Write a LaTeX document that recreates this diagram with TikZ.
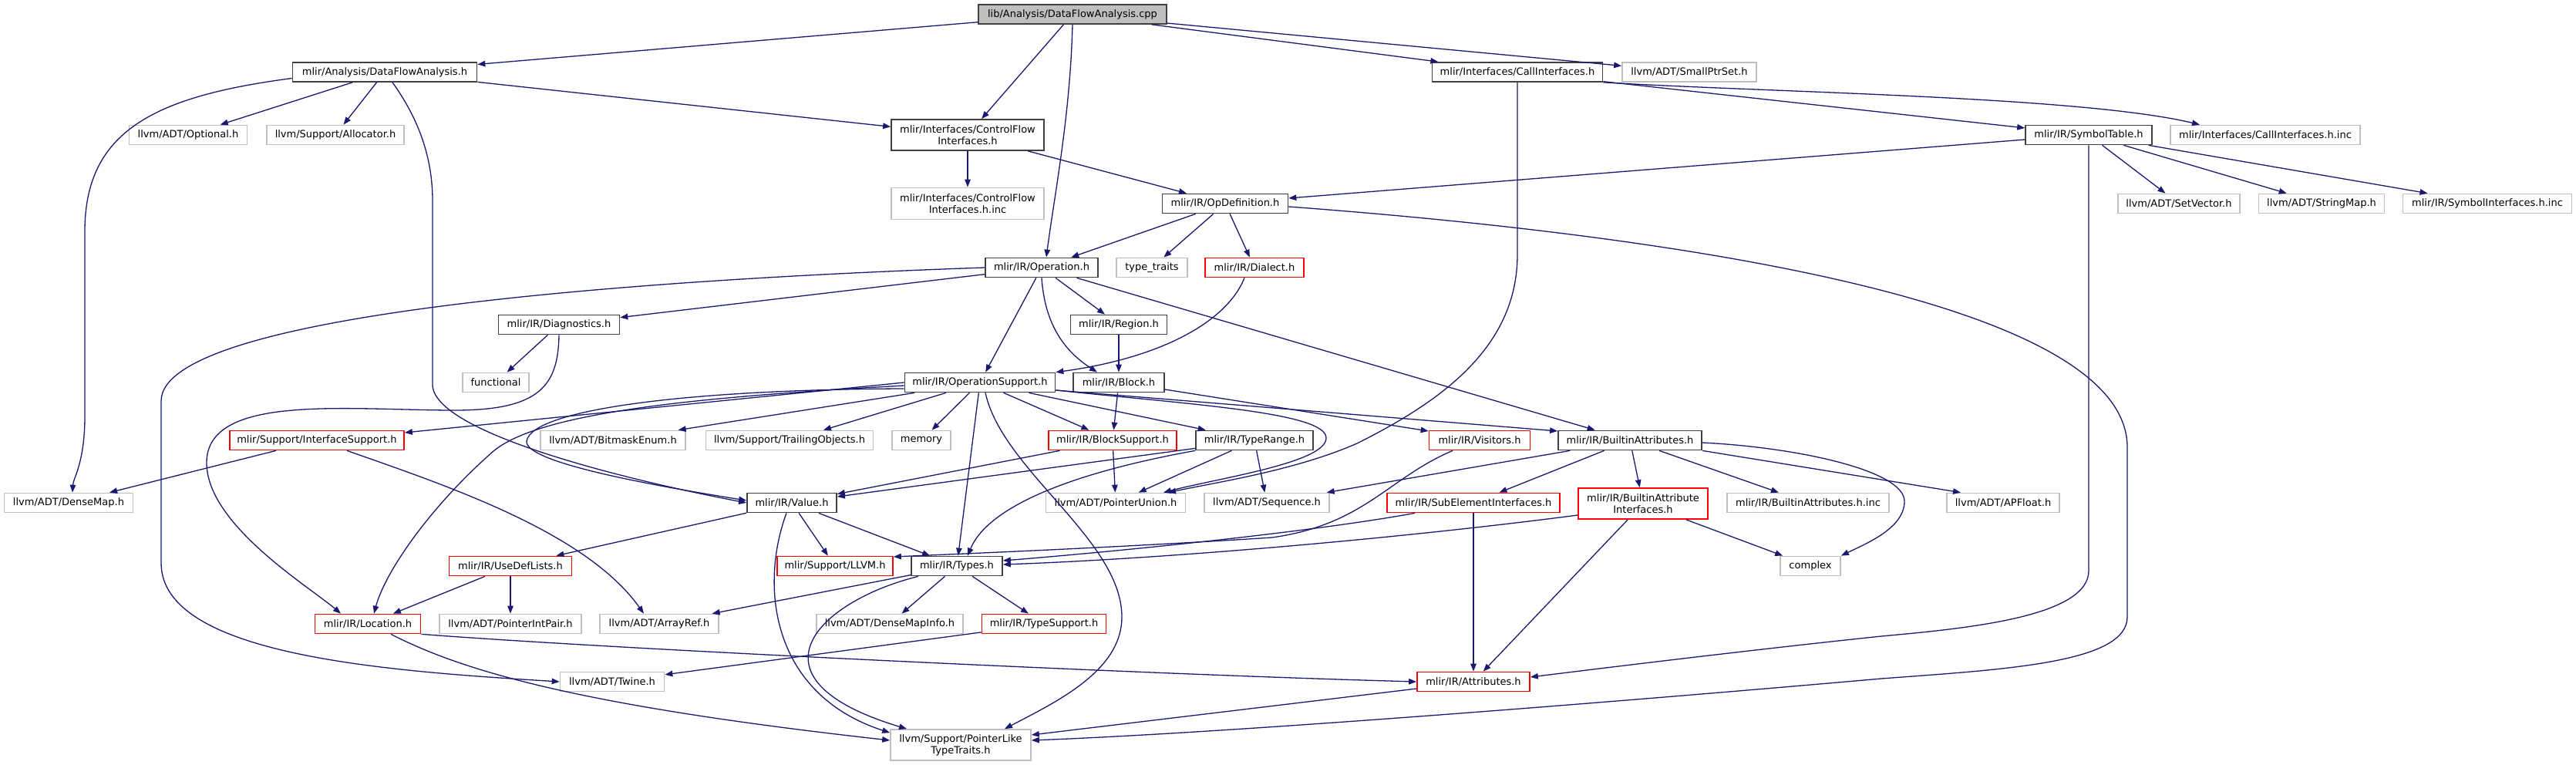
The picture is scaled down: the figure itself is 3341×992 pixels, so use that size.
\documentclass[tikz,border=0pt]{standalone}
\usepackage{fontspec}
\setmainfont{DejaVu Sans}
\usetikzlibrary{arrows.meta,calc}
\definecolor{edgecol}{HTML}{191970}
\definecolor{bordk}{HTML}{404040}
\definecolor{bordg}{HTML}{BFBFBF}
\definecolor{bordr}{HTML}{FF0000}
\definecolor{rootfill}{HTML}{BFBFBF}
\begin{document}
\begin{tikzpicture}[x=1pt,y=-1pt,
  fbox/.style={rectangle, inner sep=0pt, minimum height=25pt, font=\fontsize{13}{15}\selectfont, align=center, fill=white, line width=1.7pt},
  kbox/.style={fbox, draw=bordk},
  gbox/.style={fbox, draw=bordg},
  rbox/.style={fbox, draw=bordr},
  dep/.style={draw=edgecol, line width=1.3pt, -{Triangle[length=10pt,width=7.5pt]}}]
\useasboundingbox[fill=white] (0,0) rectangle (3341,992);
% row A/B/C
\node[kbox, fill=rootfill, minimum width=244pt] (cpp) at (1391,18.5) {lib/Analysis/DataFlowAnalysis.cpp};
\node[kbox, minimum width=239pt] (dfa) at (499,93.5) {mlir/Analysis/DataFlowAnalysis.h};
\node[kbox, minimum width=221pt] (call) at (1968,93.5) {mlir/Interfaces/CallInterfaces.h};
\node[gbox, minimum width=174pt] (sps) at (2191,93.5) {llvm/ADT/SmallPtrSet.h};
\node[gbox, minimum width=153pt] (opt) at (244,175) {llvm/ADT/Optional.h};
\node[gbox, minimum width=178pt] (alloc) at (435,175) {llvm/Support/Allocator.h};
\node[kbox, minimum width=198pt, minimum height=40pt] (cfi) at (1255,175) {mlir/Interfaces/ControlFlow\\Interfaces.h};
\node[kbox, minimum width=164pt] (symt) at (2709,175) {mlir/IR/SymbolTable.h};
\node[gbox, minimum width=246pt] (callinc) at (2938,175) {mlir/Interfaces/CallInterfaces.h.inc};
% row D
\node[gbox, minimum width=198pt, minimum height=41pt] (cfiinc) at (1255,264) {mlir/Interfaces/ControlFlow\\Interfaces.h.inc};
\node[kbox, minimum width=163pt] (opdef) at (1589,264) {mlir/IR/OpDefinition.h};
\node[gbox, minimum width=158pt] (setv) at (2826,264) {llvm/ADT/SetVector.h};
\node[gbox, minimum width=163pt] (smap) at (3011,264) {llvm/ADT/StringMap.h};
\node[gbox, minimum width=219pt] (syminc) at (3226,264) {mlir/IR/SymbolInterfaces.h.inc};
% row E
\node[kbox, minimum width=146pt] (opr) at (1351,347) {mlir/IR/Operation.h};
\node[gbox, minimum width=92pt] (tt) at (1494,347) {type\_traits};
\node[rbox, minimum width=128pt] (dial) at (1627,347) {mlir/IR/Dialect.h};
% row F
\node[kbox, minimum width=157pt] (diag) at (725,421) {mlir/IR/Diagnostics.h};
\node[kbox, minimum width=125pt] (reg) at (1451,421) {mlir/IR/Region.h};
% row G
\node[gbox, minimum width=86pt] (func) at (643,496) {functional};
\node[kbox, minimum width=195pt] (ops) at (1271,496) {mlir/IR/OperationSupport.h};
\node[kbox, minimum width=118pt] (blk) at (1451,496) {mlir/IR/Block.h};
% row H
\node[rbox, minimum width=226pt] (isup) at (411,571) {mlir/Support/InterfaceSupport.h};
\node[gbox, minimum width=188pt] (bme) at (795,571) {llvm/ADT/BitmaskEnum.h};
\node[gbox, minimum width=217pt] (trail) at (1024,571) {llvm/Support/TrailingObjects.h};
\node[gbox, minimum width=76pt] (mem) at (1195,571) {memory};
\node[rbox, minimum width=166pt] (bsup) at (1443,571) {mlir/IR/BlockSupport.h};
\node[kbox, minimum width=152pt] (trange) at (1627,571) {mlir/IR/TypeRange.h};
\node[rbox, minimum width=131pt] (vis) at (1919,571) {mlir/IR/Visitors.h};
\node[kbox, minimum width=186pt] (battr) at (2114,571) {mlir/IR/BuiltinAttributes.h};
% row I
\node[gbox, minimum width=167pt] (dmap) at (89,652) {llvm/ADT/DenseMap.h};
\node[kbox, minimum width=116pt] (val) at (1027,652) {mlir/IR/Value.h};
\node[gbox, minimum width=181pt] (punion) at (1447,652) {llvm/ADT/PointerUnion.h};
\node[gbox, minimum width=162pt] (seq) at (1643,652) {llvm/ADT/Sequence.h};
\node[rbox, minimum width=224pt] (sei) at (1911,652) {mlir/IR/SubElementInterfaces.h};
\node[rbox, minimum width=168pt, minimum height=40pt] (bai) at (2131,653) {mlir/IR/BuiltinAttribute\\Interfaces.h};
\node[gbox, minimum width=210pt] (bainc) at (2345,652) {mlir/IR/BuiltinAttributes.h.inc};
\node[gbox, minimum width=146pt] (apf) at (2598,652) {llvm/ADT/APFloat.h};
% row J
\node[rbox, minimum width=159pt] (udl) at (662,734) {mlir/IR/UseDefLists.h};
\node[rbox, minimum width=150pt] (llvmh) at (1083,734) {mlir/Support/LLVM.h};
\node[kbox, minimum width=118pt] (types) at (1241,734) {mlir/IR/Types.h};
\node[gbox, minimum width=78pt] (cplx) at (2348,734) {complex};
% row K
\node[rbox, minimum width=137pt] (loc) at (477,809) {mlir/IR/Location.h};
\node[gbox, minimum width=184pt] (pip) at (662,809) {llvm/ADT/PointerIntPair.h};
\node[gbox, minimum width=154pt] (aref) at (855,809) {llvm/ADT/ArrayRef.h};
\node[gbox, minimum width=190pt] (dmi) at (1154,809) {llvm/ADT/DenseMapInfo.h};
\node[rbox, minimum width=161pt] (tsup) at (1354,809) {mlir/IR/TypeSupport.h};
% row L/M
\node[gbox, minimum width=135pt] (twine) at (794,884) {llvm/ADT/Twine.h};
\node[rbox, minimum width=146pt] (attr) at (1911,884) {mlir/IR/Attributes.h};
\node[gbox, minimum width=182pt, minimum height=40pt] (plt) at (1246,966) {llvm/Support/PointerLike\\TypeTraits.h};

% ---- edges ----
\draw[dep] (cpp) -- (dfa);
\draw[dep] (cpp) -- (cfi);
\draw[dep] (cpp.south) .. controls (1388,150) and (1368,250) .. ($(opr.north)+(6,0)$);
\draw[dep] (cpp) -- (call);
\draw[dep] (cpp) -- (sps);

\draw[dep] (dfa) -- (opt);
\draw[dep] (dfa) -- (alloc);
\draw[dep] ($(dfa.west)+(0,8)$) .. controls (200,125) and (110,170) .. (110,300) -- (110,540) .. controls (110,600) and (95,620) .. ($(dmap.north)+(5,0)$);
\draw[dep] ($(dfa.south)+(10,0)$) .. controls (540,150) and (561,200) .. (561,260) -- (561,500) .. controls (565,560) and (800,620) .. (val.west);
\draw[dep] (dfa) -- (cfi);

\draw[dep] (cfi) -- (cfiinc);
\draw[dep] (cfi) -- (opdef);

\draw[dep] (opdef) -- (opr);
\draw[dep] (opdef) -- (tt);
\draw[dep] (opdef) -- (dial);
\draw[dep] ($(opdef.east)+(0,4)$) .. controls (2100,300) and (2759,380) .. (2759,580) -- (2759,800) .. controls (2759,860) and (2600,868) .. (2440,880) .. controls (2100,910) and (1600,950) .. ($(plt.east)+(0,-6)$);

\draw[dep] (opr) -- (diag);
\draw[dep] (opr.west) .. controls (900,360) and (209,400) .. (209,520) -- (209,730) .. controls (209,850) and (500,870) .. (twine.west);
\draw[dep] (opr) -- (reg);
\draw[dep] (opr.south) .. controls (1355,420) and (1380,455) .. ($(blk.north)+(-28,0)$);
\draw[dep] (opr) -- (ops);
\draw[dep] (opr) -- (battr);

\draw[dep] (diag) -- (func);
\draw[dep] (diag.south) .. controls (724,500) and (700,532) .. (590,532) .. controls (450,532) and (268,510) .. (268,600) .. controls (268,680) and (400,760) .. ($(loc.north)+(-35,0)$);

\draw[dep] (dial.south) ++(-13,0) .. controls (1590,420) and (1500,465) .. (ops.north east);

\draw[dep] (reg) -- (blk);
\draw[dep] (blk) -- (bsup);
\draw[dep] ($(blk.east)+(0,9)$) -- ($(vis.west)+(0,-12)$);

\draw[dep] (ops) -- (bme);
\draw[dep] (ops) -- (trail);
\draw[dep] (ops) -- (mem);
\draw[dep] (ops) -- (bsup);
\draw[dep] (ops) -- (trange);
\draw[dep] (ops) -- (types);
\draw[dep] ($(ops.south)+(7,0)$) .. controls (1300,610) and (1455,700) .. (1455,800) .. controls (1455,870) and (1370,910) .. ($(plt.north)+(57,0)$);
\draw[dep] ($(ops.west)+(0,4)$) .. controls (900,515) and (700,535) .. (640,585) .. controls (560,655) and (500,740) .. ($(loc.north)+(8,0)$);
\draw[dep] (ops.west) -- ($(isup.east)+(0,-10)$);
\draw[dep] ($(ops.west)+(0,8)$) .. controls (900,505) and (690,530) .. (683,572) .. controls (680,600) and (850,630) .. ($(val.west)+(0,-3)$);
\draw[dep] ($(ops.east)+(0,10)$) .. controls (1550,525) and (1720,535) .. (1720,568) .. controls (1720,600) and (1580,620) .. ($(punion.north)+(62,0)$);
\draw[dep] ($(ops.east)+(0,10)$) -- ($(battr.west)+(0,-12)$);

\draw[dep] (isup) -- (dmap);
\draw[dep] ($(isup.south)+(39,0)$) .. controls (580,630) and (760,690) .. ($(aref.north)+(-20,0)$);

\draw[dep] (bsup) -- (val);
\draw[dep] (bsup) -- (punion);
\draw[dep] (trange) -- (val);
\draw[dep] (trange.south west) .. controls (1380,615) and (1280,660) .. ($(types.north)+(14,0)$);
\draw[dep] (trange) -- (punion);
\draw[dep] (trange) -- (seq);

\draw[dep] (val) -- (udl);
\draw[dep] (val) -- (llvmh);
\draw[dep] (val) -- (types);
\draw[dep] ($(val.south)+(-7,0)$) .. controls (985,760) and (1000,900) .. ($(plt.north west)+(0,5)$);

\draw[dep] (types) -- (aref);
\draw[dep] (types) -- (dmi);
\draw[dep] (types) -- (tsup);
\draw[dep] ($(types.south)+(-50,0)$) .. controls (1060,780) and (960,880) .. ($(plt.north)+(-70,0)$);

\draw[dep] (tsup) -- (twine);
\draw[dep] (udl) -- (loc);
\draw[dep] (udl) -- (pip);
\draw[dep] (loc.south east) .. controls (800,842) and (1500,875) .. (attr.west);
\draw[dep] ($(loc.south)+(30,0)$) .. controls (600,870) and (750,915) .. ($(plt.west)+(0,-6)$);

\draw[dep] (call) -- (symt);
\draw[dep] (call.south east) .. controls (2300,120) and (2700,125) .. ($(callinc.north)+(-85,0)$);
\draw[dep] (call.south) -- (1968,330) .. controls (1968,450) and (1870,520) .. (1760,575) .. controls (1680,610) and (1580,625) .. ($(punion.north)+(68,0)$);

\draw[dep] ($(symt.west)+(0,6)$) -- ($(opdef.east)+(0,-7)$);
\draw[dep] (symt) -- (setv);
\draw[dep] (symt) -- (smap);
\draw[dep] (symt) -- (syminc);
\draw[dep] (symt.south) -- (2709,740) .. controls (2709,800) and (2550,815) .. (2440,825) .. controls (2250,845) and (2050,870) .. ($(attr.east)+(0,-6)$);

\draw[dep] (battr) -- (seq);
\draw[dep] (battr) -- (sei);
\draw[dep] (battr) -- (bai);
\draw[dep] (battr) -- (bainc);
\draw[dep] (battr.south east) -- ($(apf.north)+(-55,0)$);
\draw[dep] ($(battr.east)+(0,3)$) .. controls (2330,580) and (2470,610) .. (2470,650) .. controls (2470,685) and (2420,705) .. (cplx.north east);

\draw[dep] (bai) -- (cplx);
\draw[dep] (bai) -- (attr);
\draw[dep] ($(bai.west)+(0,15)$) .. controls (1800,700) and (1500,725) .. ($(types.east)+(0,-2)$);
\draw[dep] (sei) -- (attr);
\draw[dep] ($(sei.south west)+(37,0)$) .. controls (1700,690) and (1450,715) .. ($(types.east)+(0,-7)$);
\draw[dep] ($(vis.south)+(-35,0)$) .. controls (1800,620) and (1770,680) .. (1650,697) .. controls (1450,710) and (1250,718) .. ($(llvmh.east)+(0,-12)$);
\draw[dep] ($(attr.west)+(0,9)$) -- ($(plt.east)+(0,-13)$);
\end{tikzpicture}
\end{document}
